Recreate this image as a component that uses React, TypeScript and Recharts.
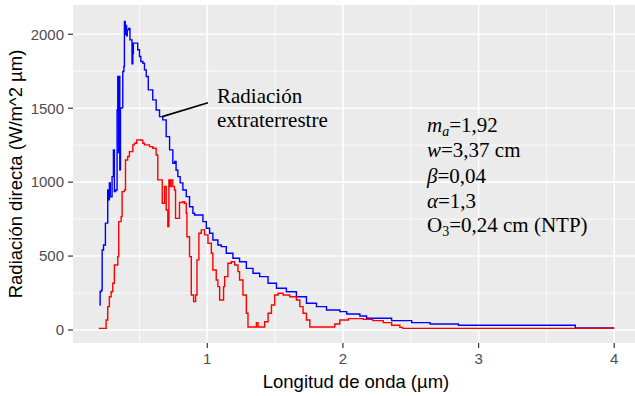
import { LineChart, Line, XAxis, YAxis, CartesianGrid, ReferenceLine } from "recharts";

// extraterrestrial spectrum (blue)
const extraX = [
  0.205, 0.21, 0.22, 0.225, 0.235, 0.249, 0.26, 0.266, 0.272, 0.278, 0.285, 0.298, 0.308, 0.315,
  0.325, 0.335, 0.34, 0.346, 0.35, 0.355, 0.36, 0.365, 0.377, 0.385, 0.389, 0.395, 0.4, 0.405,
  0.41, 0.42, 0.43, 0.445, 0.451, 0.455, 0.475, 0.487, 0.5, 0.51, 0.525, 0.537, 0.55, 0.565,
  0.585, 0.598, 0.623, 0.648, 0.672, 0.697, 0.722, 0.746, 0.76, 0.77, 0.783, 0.8, 0.82, 0.845,
  0.869, 0.894, 0.906, 0.943, 0.968, 0.993, 1.017, 1.041, 1.078, 1.103, 1.14, 1.189, 1.238,
  1.288, 1.337, 1.386, 1.448, 1.51, 1.583, 1.657, 1.731, 1.805, 1.879, 1.977, 2.028, 2.125,
  2.174, 2.359, 2.507, 2.642, 2.851, 3.713, 4.0,
];
const extraY = [
  169, 260, 270, 541, 575, 723, 723, 947, 880, 995, 900, 1037, 1218, 936,
  947, 1488, 1714, 1200, 1714, 1083, 1500, 1502, 1748, 1782, 2086, 2000, 2060, 1990,
  2030, 2040, 1962, 1800, 1870, 1940, 1940, 1895, 1850, 1816, 1804, 1759, 1714, 1624,
  1624, 1556, 1488, 1443, 1421, 1308, 1218, 1128, 1140, 1080, 1037, 995, 947, 902,
  834, 790, 778, 778, 733, 688, 654, 609, 575, 564, 519, 485, 462,
  417, 384, 361, 316, 282, 259, 225, 181, 158, 135, 124, 108, 95,
  79, 63, 50, 41, 32, 14, 14,
];

// direct radiation at ground (red)
const directX = [
  0.2, 0.241, 0.254, 0.266, 0.278, 0.291, 0.303, 0.315, 0.34, 0.347, 0.365, 0.372, 0.389, 0.397,
  0.413, 0.426, 0.451, 0.463, 0.48, 0.512, 0.525, 0.537, 0.574, 0.598, 0.623, 0.635, 0.66, 0.668,
  0.685, 0.697, 0.709, 0.717, 0.725, 0.734, 0.746, 0.758, 0.766, 0.783, 0.795, 0.82, 0.832, 0.845,
  0.85, 0.869, 0.882, 0.899, 0.914, 0.924, 0.938, 0.956, 0.98, 1.005, 1.03, 1.041, 1.066, 1.078,
  1.091, 1.111, 1.12, 1.128, 1.152, 1.177, 1.202, 1.226, 1.238, 1.263, 1.288, 1.3, 1.349, 1.362,
  1.374, 1.411, 1.423, 1.448, 1.473, 1.497, 1.522, 1.559, 1.608, 1.657, 1.682, 1.706, 1.731, 1.756,
  1.916, 1.94, 1.977, 2.04, 2.15, 2.22, 2.297, 2.359, 2.42, 2.44, 4.0,
];
const directY = [
  11, 11, 68, 158, 225, 259, 316, 440, 496, 733, 767, 936, 947, 1150,
  1173, 1206, 1252, 1263, 1286, 1283, 1263, 1252, 1240, 1229, 1184, 1015, 1015, 857,
  970, 812, 699, 1015, 970, 1015, 970, 947, 755, 755, 862, 868, 857, 790,
  631, 496, 237, 192, 237, 474, 654, 677, 643, 587, 519, 406, 338, 293,
  203, 203, 293, 361, 451, 462, 440, 395, 338, 237, 113, 20, 20, 50,
  20, 20, 56, 113, 169, 237, 248, 237, 225, 203, 158, 113, 68, 20,
  20, 41, 68, 77, 72, 63, 50, 32, 18, 11, 11,
];

const xTicks = [1, 2, 3, 4];
const yTicks = [0, 500, 1000, 1500, 2000];
const xMinor = [0.5, 1.5, 2.5, 3.5];
const yMinor = [250, 750, 1250, 1750];

const extraData = extraX.map((x, i) => ({ x, y: extraY[i] }));
const directData = directX.map((x, i) => ({ x, y: directY[i] }));

const sans = "'Liberation Sans', Arial, sans-serif";
const serif = "'Liberation Serif', 'Times New Roman', serif";

export default function App() {
  return (
    <div
      style={{
        position: "fixed",
        left: 0,
        top: 0,
        width: 635,
        height: 396,
        overflow: "hidden",
        background: "#fff",
      }}
    >
      <LineChart width={645} height={396} margin={{ top: 5, right: 5, left: 0, bottom: 0 }}>
        <CartesianGrid
          fill="#EBEBEB"
          stroke="#fff"
          strokeWidth={0.8}
          horizontalValues={yMinor}
          verticalValues={xMinor}
        />
        <CartesianGrid
          stroke="#fff"
          strokeWidth={1.6}
          horizontalValues={yTicks}
          verticalValues={xTicks}
        />
        <XAxis
          dataKey="x"
          type="number"
          domain={[0.01, 4.19]}
          ticks={xTicks}
          height={53}
          axisLine={false}
          tickSize={5}
          tickMargin={5}
          tickLine={{ stroke: "#333", strokeWidth: 1.2 }}
          tick={{ fill: "#4D4D4D", fontSize: 15, fontFamily: sans }}
          allowDataOverflow
        />
        <YAxis
          type="number"
          domain={[-88, 2198]}
          ticks={yTicks}
          width={73}
          axisLine={false}
          tickSize={5}
          tickMargin={4}
          tickLine={{ stroke: "#333", strokeWidth: 1.2 }}
          tick={{ fill: "#4D4D4D", fontSize: 15, fontFamily: sans }}
          allowDataOverflow
        />
        <Line
          data={extraData}
          dataKey="y"
          type="stepAfter"
          stroke="#0000FF"
          strokeWidth={1.4}
          dot={false}
          isAnimationActive={false}
        />
        <Line
          data={directData}
          dataKey="y"
          type="stepAfter"
          stroke="#FF0000"
          strokeWidth={1.4}
          dot={false}
          isAnimationActive={false}
        />
        <ReferenceLine
          segment={[
            { x: 0.668, y: 1443 },
            { x: 1.005, y: 1537 },
          ]}
          stroke="#000"
          strokeWidth={1.6}
        />
      </LineChart>
      <svg
        width={635}
        height={396}
        style={{ position: "absolute", left: 0, top: 0, pointerEvents: "none" }}
      >
        <text
          transform="translate(21.5,174) rotate(-90)"
          textAnchor="middle"
          fontFamily={sans}
          fontSize={18.5}
          fill="#000"
        >
          Radiación directa (W/m^2 µm)
        </text>
        <text x={356} y={388} textAnchor="middle" fontFamily={sans} fontSize={18.5} fill="#000">
          Longitud de onda (µm)
        </text>
        <g fontFamily={serif} fontSize={21} fill="#000">
          <text x={217} y={103}>Radiación</text>
          <text x={217} y={127}>extraterrestre</text>
          <text x={427} y={132}>
            <tspan fontStyle="italic">m</tspan>
            <tspan fontStyle="italic" fontSize={14} dy={4}>a</tspan>
            <tspan dy={-4}>=1,92</tspan>
          </text>
          <text x={427} y={157}>
            <tspan fontStyle="italic">w</tspan>=3,37 cm
          </text>
          <text x={427} y={183}>
            <tspan fontStyle="italic">β</tspan>=0,04
          </text>
          <text x={427} y={208}>
            <tspan fontStyle="italic">α</tspan>=1,3
          </text>
          <text x={427} y={232}>
            O<tspan fontSize={14} dy={4}>3</tspan>
            <tspan dy={-4}>=0,24 cm (NTP)</tspan>
          </text>
        </g>
      </svg>
    </div>
  );
}
